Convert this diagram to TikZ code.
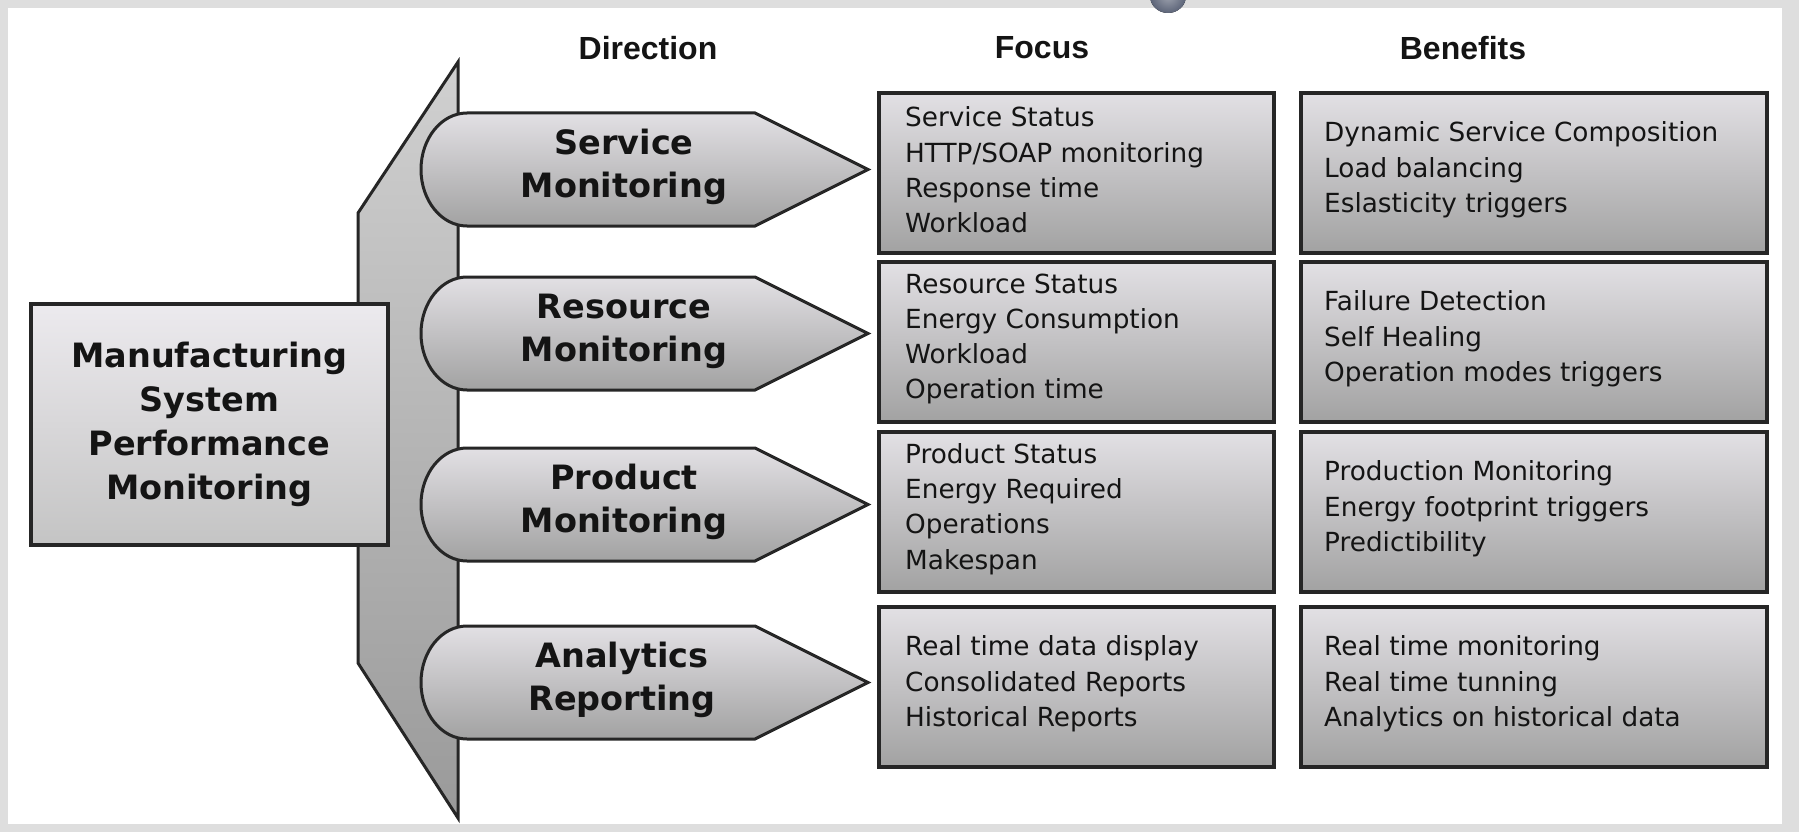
\documentclass[tikz,border=0pt]{standalone}
\usepackage{fontspec}
\newfontfamily\dvs{DejaVu Sans}
\newfontfamily\lsans{Liberation Sans}
\definecolor{edge}{HTML}{262626}
\definecolor{boxtop}{HTML}{E2E0E4}
\definecolor{boxbot}{HTML}{A2A2A2}
\definecolor{lbtop}{HTML}{ECEAEE}
\definecolor{lbbot}{HTML}{C4C4C4}
\definecolor{bandtop}{HTML}{D0D0D0}
\definecolor{bandmid}{HTML}{D4D4D6}
\definecolor{bandbot}{HTML}{9A9A9A}
\definecolor{frame}{HTML}{DEDEDE}
\definecolor{blob}{HTML}{5C6478}
\definecolor{ink}{HTML}{141414}
\tikzset{
  boxnode/.style={draw=edge, line width=4pt, top color=boxtop, bottom color=boxbot,
    anchor=north west, inner sep=0pt},
  dshape/.style={draw=edge, line width=3pt, top color=boxtop, bottom color=boxbot},
  bandshape/.style={draw=edge, line width=3pt, top color=bandtop, middle color=bandmid, bottom color=bandbot},
  lbox/.style={draw=edge, line width=3.5pt, top color=lbtop, bottom color=lbbot,
    minimum width=357pt, minimum height=241pt, inner sep=0pt,
    align=center, font=\dvs\bfseries\fontsize{33.5}{44}\selectfont, text=ink},
  dirtext/.style={align=center, inner sep=0pt, font=\dvs\bfseries\fontsize{33.5}{43}\selectfont, text=ink},
  listtext/.style={anchor=west, align=left, inner sep=0pt, font=\dvs\fontsize{26.3}{35.3}\selectfont, text=ink},
  head/.style={inner sep=0pt, font=\lsans\bfseries\fontsize{32}{38}\selectfont, text=ink}
}
\begin{document}
\begin{tikzpicture}[x=1pt,y=-1pt]
\useasboundingbox (0,0) rectangle (1799,832);
% frame
\fill[frame] (0,0) rectangle (1799,832);
\fill[white] (8,8) rectangle (1782,824);
\fill[inner color=blob!60!white, outer color=blob] (1168,-4) ellipse [x radius=18, y radius=17];

% headers
\node[head] (hdir) at (648,48) {Direction};
\node[head] (hfoc) at (1042,48) {Focus};
\node[head] (hben) at (1463,48) {Benefits};

% vertical band
\draw[bandshape] (458,62) -- (358,213) -- (358,663) -- (458,818) -- cycle;

% left box
\node[lbox] (msp) at (209.5,424.5) {Manufacturing\\System\\Performance\\Monitoring};

% direction shapes
\foreach \c in {169.5,333.5,504.5,682.5}{
  \draw[dshape] (467,\c-56.5) -- (755,\c-56.5) -- (868,\c) -- (755,\c+56.5) -- (467,\c+56.5)
    arc[start angle=90, end angle=270, x radius=46, y radius=56.5] -- cycle;
}
\node[dirtext] (dsvc) at (624,167) {Service\\Monitoring};
\node[dirtext] (dres) at (624,331) {Resource\\Monitoring};
\node[dirtext] (dprd) at (624,502) {Product\\Monitoring};
\node[dirtext] (dana) at (622,680) {Analytics\\Reporting};

% focus boxes
\node[boxnode, minimum width=395pt, minimum height=160pt] (f1) at (877,91) {};
\node[boxnode, minimum width=395pt, minimum height=160pt] (f2) at (877,260) {};
\node[boxnode, minimum width=395pt, minimum height=160pt] (f3) at (877,430) {};
\node[boxnode, minimum width=395pt, minimum height=160pt] (f4) at (877,605) {};
% benefit boxes
\node[boxnode, minimum width=466pt, minimum height=160pt] (b1) at (1299,91) {};
\node[boxnode, minimum width=466pt, minimum height=160pt] (b2) at (1299,260) {};
\node[boxnode, minimum width=466pt, minimum height=160pt] (b3) at (1299,430) {};
\node[boxnode, minimum width=466pt, minimum height=160pt] (b4) at (1299,605) {};

% focus texts
\node[listtext] (f1t) at ([xshift=28pt,yshift=3pt]f1.west) {Service Status\\HTTP/SOAP monitoring\\Response time\\Workload};
\node[listtext] (f2t) at ([xshift=28pt,yshift=3pt]f2.west) {Resource Status\\Energy Consumption\\Workload\\Operation time};
\node[listtext] (f3t) at ([xshift=28pt,yshift=3pt]f3.west) {Product Status\\Energy Required\\Operations\\Makespan};
\node[listtext] (f4t) at ([xshift=28pt,yshift=3pt]f4.west) {Real time data display\\Consolidated Reports\\Historical Reports};
% benefit texts
\node[listtext] (b1t) at ([xshift=25pt,yshift=3pt]b1.west) {Dynamic Service Composition\\Load balancing\\Eslasticity triggers};
\node[listtext] (b2t) at ([xshift=25pt,yshift=3pt]b2.west) {Failure Detection\\Self Healing\\Operation modes triggers};
\node[listtext] (b3t) at ([xshift=25pt,yshift=3pt]b3.west) {Production Monitoring\\Energy footprint triggers\\Predictibility};
\node[listtext] (b4t) at ([xshift=25pt,yshift=3pt]b4.west) {Real time monitoring\\Real time tunning\\Analytics on historical data};
\end{tikzpicture}
\end{document}
